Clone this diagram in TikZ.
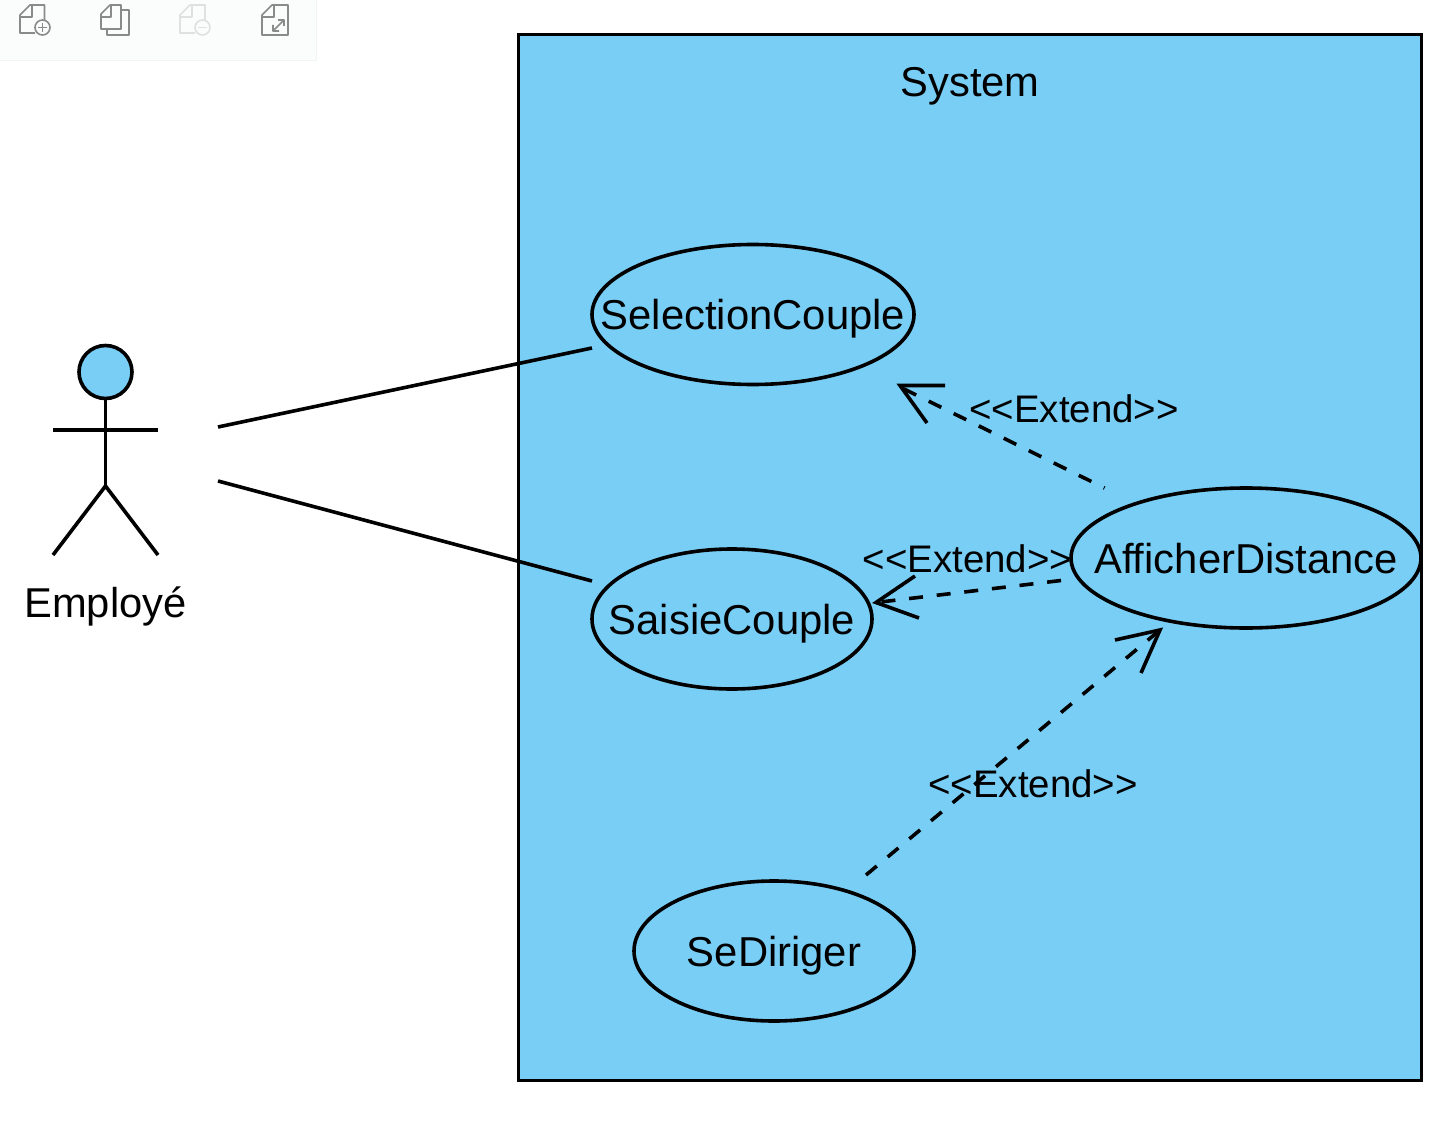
\documentclass[tikz,border=0pt]{standalone}
\usepackage{fontspec}
\setmainfont{Liberation Sans}
\usetikzlibrary{shapes.geometric}
\definecolor{sysblue}{HTML}{79CEF5}
\definecolor{iconc}{HTML}{8A8A8A}
\definecolor{iconl}{HTML}{E0E0E0}
\definecolor{barfill}{HTML}{FBFCFC}
\definecolor{barline}{HTML}{F1F2F2}
\newcommand{\uctext}[1]{\raisebox{-15pt}[0pt][0pt]{\makebox[0pt]{#1}}}
\tikzset{
  x=1pt,y=-1pt,
  ln/.style={line width=3.6pt,draw=black},
  usecase/.style={ellipse,ln,minimum width=2*#1,minimum height=140pt,inner sep=0pt,font=\fontsize{41.8pt}{48pt}\selectfont},
  lbl/.style={inner sep=0pt,font=\fontsize{38.4pt}{44pt}\selectfont},
  big/.style={inner sep=0pt,font=\fontsize{41.7pt}{48pt}\selectfont},
  dashln/.style={ln,dash pattern=on 14pt off 13.8pt},
  ic/.style={line width=1.6pt,line join=round},
}
\begin{document}
\begin{tikzpicture}
\useasboundingbox (0,0) rectangle (1451,1123);
% toolbar
\fill[fill=barfill] (0,0) rectangle (316,60);
\draw[line width=1.5pt,color=barline] (0,60.5) -- (316.5,60.5) -- (316.5,0);
\draw[ic,iconc] (35,33) -- (20,33) -- (20,15) -- (30,5) -- (44.5,5) -- (44.5,20);
\draw[ic,iconc] (20,17) -- (32,17) -- (32,5);
\draw[ic,iconc] (42.5,27.5) circle (7.5);
\draw[ic,iconc] (38,27.5) -- (47,27.5) (42.5,23) -- (42.5,32);
\draw[ic,iconc] (101,29) -- (101,14) -- (110,5) -- (121,5) -- (121,29) -- cycle;
\draw[ic,iconc] (101,17) -- (111,17) -- (111,5);
\draw[ic,iconc] (121,10) -- (129,10) -- (129,35) -- (107,35) -- (107,29);
\draw[ic,iconl] (195,33) -- (180,33) -- (180,15) -- (190,5) -- (205,5) -- (205,20);
\draw[ic,iconl] (180,17) -- (192,17) -- (192,5);
\draw[ic,iconl] (202.5,27.5) circle (7.5);
\draw[ic,iconl] (198,27.5) -- (207,27.5);
\draw[ic,iconc] (262,35) -- (262,15) -- (272,5) -- (288,5) -- (288,35) -- cycle;
\draw[ic,iconc] (262,17) -- (274,17) -- (274,5);
\draw[ic,iconc] (273,31) -- (284,20) (278,20) -- (284,20) -- (284,26) (273,25) -- (273,31) -- (279,31);
% system
\node[draw=black,line width=3.4pt,fill=sysblue,outer sep=0pt,minimum width=903pt,minimum height=1046pt,inner sep=0pt,anchor=north west] (sys) at (518.5,34.5) {};
\node[big] (systitle) at (970,86) {System};
% use cases
\node[usecase=161pt] (sel) at (753,314.5) {\uctext{SelectionCouple}};
\node[usecase=140pt] (sai) at (732,619) {\uctext{SaisieCouple}};
\node[usecase=140pt] (dir) at (774,951) {\uctext{SeDiriger}};
\node[usecase=175pt] (aff) at (1246,558) {\uctext{AfficherDistance}};
% actor
\node[circle,ln,fill=sysblue,minimum size=53pt,inner sep=0pt] (head) at (105.5,372) {};
\coordinate (neck) at (105.5,398.5);
\coordinate (hip) at (105.5,486);
\coordinate (armL) at (53,430);
\coordinate (armR) at (158,430);
\coordinate (legL) at (53,555);
\coordinate (legR) at (158,555);
\draw[ln] (neck) -- (hip);
\draw[ln] (armL) -- (armR);
\draw[ln] (legL) -- (hip) -- (legR);
\node[big] (emp) at (105.5,606) {Employé};
% associations
\coordinate (a1) at (218,427); \coordinate (b1) at (592,348);
\coordinate (a2) at (218,481); \coordinate (b2) at (592,581);
\draw[ln] (a1) -- (b1);
\draw[ln] (a2) -- (b2);
% extends
\coordinate (t1) at (899,386.5); \coordinate (s1) at (1104.5,488);
\coordinate (t1h) at (900,385.5);
\coordinate (t1a) at (945,385.5); \coordinate (t1b) at (927,423);
\draw[ln,dash pattern=on 14pt off 13.9pt,dash phase=22.7pt] (t1) -- (s1);
\draw[ln] (t1a) -- (t1h) -- (t1b);
\coordinate (t2) at (876,602.5); \coordinate (s2) at (1061,580.5);
\coordinate (t2a) at (915,576); \coordinate (t2b) at (919,618);
\draw[dashln] (s2) -- (t2);
\draw[ln] (t2a) -- (t2) -- (t2b);
\coordinate (t3) at (1160,630); \coordinate (s3) at (866,875);
\coordinate (t3a) at (1115,640); \coordinate (t3b) at (1141,673);
\draw[ln,dash pattern=on 14pt off 14.2pt] (s3) -- (t3);
\draw[ln] (t3a) -- (t3) -- (t3b);
\node[lbl] (e1) at (1074,409) {<{}<Extend>{}>};
\node[lbl] (e2) at (967.5,559) {<{}<Extend>{}>};
\node[lbl] (e3) at (1033,784) {<{}<Extend>{}>};
\end{tikzpicture}
\end{document}
